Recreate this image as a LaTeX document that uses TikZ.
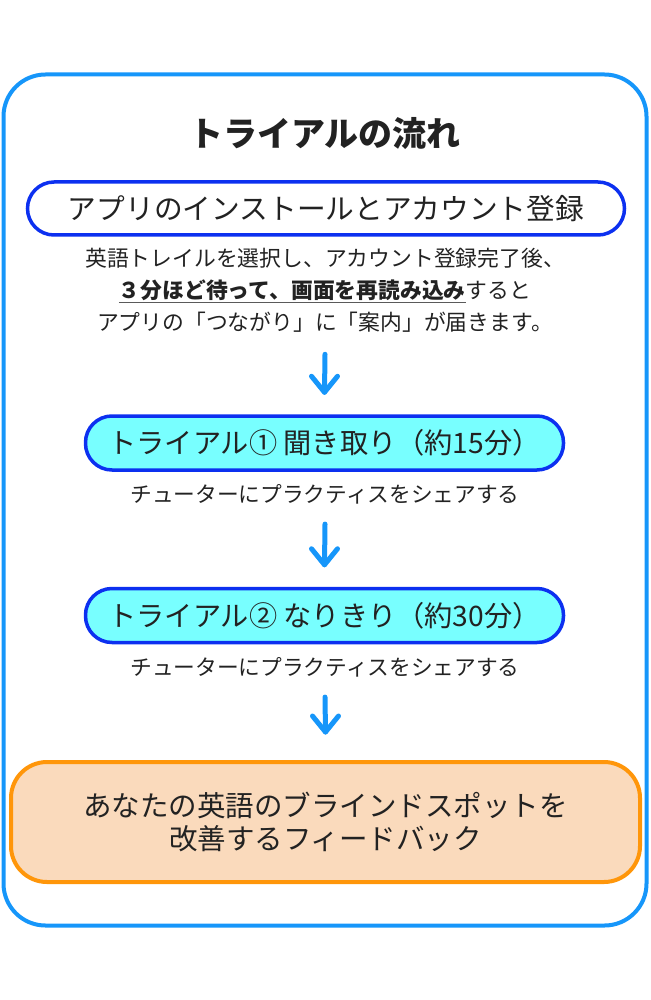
\documentclass[tikz,border=0pt]{standalone}
\usepackage{fontspec}
\setmainfont{Noto Sans CJK JP}
\usetikzlibrary{calc}
\definecolor{frameblue}{RGB}{22,150,250}
\definecolor{boxblue}{RGB}{12,48,240}
\definecolor{cyanfill}{RGB}{120,255,255}
\definecolor{orangeline}{RGB}{255,150,10}
\definecolor{peach}{RGB}{250,218,188}
\definecolor{txt}{RGB}{34,34,34}
\definecolor{ulgray}{RGB}{90,90,90}
\newcommand{\myul}[1]{{\color{ulgray}\underline{{\color{txt}#1}}}}
\begin{document}
\begin{tikzpicture}[x=1pt,y=-1pt,
  every node/.style={text=txt, inner sep=0pt},
  pillbox/.style={draw=boxblue, line width=3.5pt, rounded corners=26.5pt, minimum height=53pt},
  arrline/.style={draw=frameblue, line width=5pt, line cap=round, line join=round},
  desc/.style={font=\fontsize{21.8}{32}\selectfont, align=center},
  subtxt/.style={font=\fontsize{21.7}{26}\selectfont}
]
\useasboundingbox (0,0) rectangle (650,1000);
% outer frame
\draw[draw=frameblue, line width=4pt, rounded corners=42pt] (3.5,74.5) rectangle (646.5,925.5);
% title
\node (title) at (325,134) {\fontsize{34}{38}\selectfont\bfseries トライアルの流れ};
% box 1
\node[pillbox, fill=white, minimum width=597pt] (box1) at (326,208.5)
  {\fontsize{28.7}{32}\selectfont アプリのインストールとアカウント登録};
\node[desc] (desc1) at (325,290)
  {英語トレイルを選択し、アカウント登録完了後、\\
   \myul{\bfseries ３分ほど待って、画面を再読み込み}すると\\
   アプリの「つながり」に「案内」が届きます。};
% box 2
\node[pillbox, fill=cyanfill, minimum width=478pt, minimum height=54pt] (box2) at (324.5,443)
  {\fontsize{28.2}{30}\selectfont トライアル① 聞き取り（約15分）};
\node[subtxt] (sub1) at (325,494) {チューターにプラクティスをシェアする};
% box 3
\node[pillbox, fill=cyanfill, minimum width=478pt, minimum height=54pt] (box3) at (324.5,615.5)
  {\fontsize{28.2}{30}\selectfont トライアル② なりきり（約30分）};
\node[subtxt] (sub2) at (325,667) {チューターにプラクティスをシェアする};
% box 4
\node[draw=orangeline, fill=peach, line width=4pt, rounded corners=36pt,
      minimum width=629pt, minimum height=120pt, align=center,
      font=\fontsize{28.5}{33}\selectfont] (box4) at (325.5,822)
  {あなたの英語のブラインドスポットを\\改善するフィードバック};
% arrows
\coordinate (a1s) at ($(desc1.south)+(0,22)$);
\coordinate (a1e) at ($(box2.north)+(0,-22)$);
\coordinate (a2s) at ($(sub1.south)+(0,20)$);
\coordinate (a2e) at ($(box3.north)+(0,-22)$);
\coordinate (a3s) at ($(sub2.south)+(0,20)$);
\coordinate (a3e) at ($(box4.north)+(0,-28)$);
\foreach \s/\e in {a1s/a1e, a2s/a2e, a3s/a3e}{
  \draw[arrline] (\s) -- (\e);
  \draw[arrline] ($(\e)+(-13,-16)$) -- (\e) -- ($(\e)+(13,-16)$);
}
\end{tikzpicture}
\end{document}
